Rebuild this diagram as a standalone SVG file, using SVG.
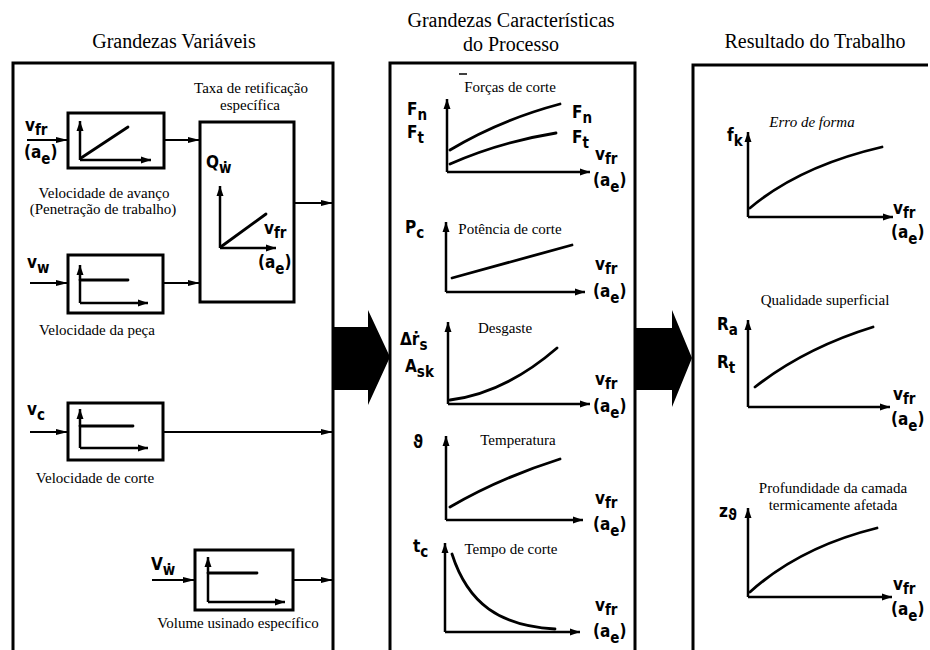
<svg xmlns="http://www.w3.org/2000/svg" width="930" height="650" viewBox="0 0 930 650">
<defs>
<style>
.h{font-family:"Liberation Serif","Times New Roman",Times,serif;font-size:20px;fill:#000;text-anchor:middle}
.t{font-family:"Liberation Serif","Times New Roman",Times,serif;font-size:15px;fill:#000;text-anchor:middle}
.ti{font-family:"Liberation Serif","Times New Roman",Times,serif;font-size:15px;font-style:italic;fill:#000;text-anchor:middle}
.m{font-family:"DejaVu Sans Condensed","DejaVu Sans",sans-serif;font-weight:bold;font-size:17px;fill:#000}
.s{font-size:15px}
.panel{fill:none;stroke:#000;stroke-width:3}
.box{fill:#fff;stroke:#000;stroke-width:3}
.ax{fill:none;stroke:#000;stroke-width:2.5;marker-end:url(#ah)}
.cv{fill:none;stroke:#000;stroke-width:2.8;stroke-linecap:round}
.cn{fill:none;stroke:#000;stroke-width:2;marker-end:url(#ch)}
.big{fill:#000}
</style>
<marker id="ah" markerWidth="10" markerHeight="8" refX="10" refY="4" orient="auto" markerUnits="userSpaceOnUse"><path d="M0,0.5 L10,4 L0,7.5 Z" fill="#000"/></marker>
<marker id="ch" markerWidth="12" markerHeight="8" refX="12" refY="4" orient="auto" markerUnits="userSpaceOnUse"><path d="M0,1 L12,4 L0,7 Z" fill="#000"/></marker>
</defs>
<rect width="930" height="650" fill="#fff"/>

<!-- titles -->
<text class="h" x="174" y="48">Grandezas Variáveis</text>
<text class="h" x="511" y="27">Grandezas Características</text>
<text class="h" x="511" y="51">do Processo</text>
<text class="h" x="815" y="48">Resultado do Trabalho</text>

<!-- panels -->
<g id="panel-variaveis"><path class="panel" d="M13,650 V63 H333 V650"/></g>
<g id="panel-processo"><path class="panel" d="M390,650 V63 H635 V650"/></g>
<g id="panel-resultado"><path class="panel" d="M693,650 V65 H928"/></g>

<!-- big block arrows -->
<g id="big-arrows">
<polygon class="big" points="333,327 368,327 368,310 390,357 368,405 368,390 333,390"/>
<polygon class="big" points="635,328 672,328 672,310 692,358 672,407 672,390 635,390"/>
</g>

<!-- left panel nodes -->
<g id="node-vfr">
<rect class="box" x="68" y="113" width="96" height="55"/>
<line class="ax" x1="80" y1="160" x2="80" y2="121"/>
<line class="ax" x1="80" y1="160" x2="151" y2="160"/>
<line class="cv" x1="81" y1="158" x2="128" y2="127"/>
<text class="m" x="25" y="131">v<tspan class="s" dy="4">fr</tspan></text>
<text class="m" x="24" y="158">(a<tspan class="s" dy="6">e</tspan><tspan dy="-6">)</tspan></text>
<text class="t" x="104" y="198">Velocidade de avanço</text>
<text class="t" x="103" y="214">(Penetração de trabalho)</text>
</g>

<g id="node-qw">
<text class="t" x="251" y="93">Taxa de retificação</text>
<text class="t" x="250" y="110">específica</text>
<rect class="box" x="200" y="122" width="94" height="180"/>
<line class="ax" x1="220" y1="248" x2="220" y2="186"/>
<line class="ax" x1="220" y1="248" x2="276" y2="248"/>
<line class="cv" x1="222" y1="246" x2="266" y2="214"/>
<text class="m" x="206" y="168">Q<tspan class="s" dy="5">ẇ</tspan></text>
<text class="m" x="264" y="234">v<tspan class="s" dy="4">fr</tspan></text>
<text class="m" x="258" y="268">(a<tspan class="s" dy="6">e</tspan><tspan dy="-6">)</tspan></text>
</g>

<g id="node-vw">
<rect class="box" x="68" y="255" width="95" height="58"/>
<line class="ax" x1="80" y1="303" x2="80" y2="265"/>
<line class="ax" x1="80" y1="303" x2="148" y2="303"/>
<line class="cv" x1="80" y1="280" x2="128" y2="280"/>
<text class="m" x="27" y="268">v<tspan class="s" dy="5">w</tspan></text>
<text class="t" x="97" y="335">Velocidade da peça</text>
</g>

<g id="node-vc">
<rect class="box" x="68" y="403" width="95" height="57"/>
<line class="ax" x1="80" y1="448" x2="80" y2="409"/>
<line class="ax" x1="80" y1="448" x2="148" y2="448"/>
<line class="cv" x1="80" y1="426" x2="133" y2="426"/>
<text class="m" x="27" y="415">v<tspan class="s" dy="5">c</tspan></text>
<text class="t" x="95" y="483">Velocidade de corte</text>
</g>

<g id="node-vw-spec">
<rect class="box" x="195" y="550" width="98" height="60"/>
<line class="ax" x1="208" y1="602" x2="208" y2="557"/>
<line class="ax" x1="208" y1="602" x2="285" y2="602"/>
<line class="cv" x1="208" y1="573" x2="257" y2="573"/>
<text class="m" x="151" y="570">V<tspan class="s" dy="5">ẇ</tspan></text>
<text class="t" x="238" y="628">Volume usinado específico</text>
</g>

<!-- connectors -->
<g id="connectors">
<line class="cn" x1="27" y1="140" x2="68" y2="140"/>
<line class="cn" x1="164" y1="140" x2="200" y2="140"/>
<line class="cn" x1="30" y1="283" x2="68" y2="283"/>
<line class="cn" x1="163" y1="283" x2="200" y2="283"/>
<line class="cn" x1="294" y1="203" x2="333" y2="203"/>
<line class="cn" x1="30" y1="432" x2="68" y2="432"/>
<line class="cn" x1="163" y1="432" x2="333" y2="432"/>
<line class="cn" x1="152" y1="580" x2="195" y2="580"/>
<line class="cn" x1="293" y1="580" x2="333" y2="580"/>
</g>

<!-- middle panel graphs -->
<g id="graph-forcas">
<text class="t" x="510" y="92">Forças de corte</text>
<line x1="459" y1="74" x2="467" y2="74" stroke="#000" stroke-width="1.5"/>
<text class="m" x="407" y="115">F<tspan class="s" dy="5">n</tspan></text>
<text class="m" x="407" y="138">F<tspan class="s" dy="5">t</tspan></text>
<line class="ax" x1="447" y1="172" x2="447" y2="99"/>
<line class="ax" x1="447" y1="172" x2="590" y2="172"/>
<path class="cv" d="M450,150 Q500,120 560,104"/>
<path class="cv" d="M450,164 Q500,142 556,133"/>
<text class="m" x="572" y="118">F<tspan class="s" dy="5">n</tspan></text>
<text class="m" x="572" y="143">F<tspan class="s" dy="5">t</tspan></text>
<text class="m" x="595" y="160">v<tspan class="s" dy="4">fr</tspan></text>
<text class="m" x="593" y="186">(a<tspan class="s" dy="6">e</tspan><tspan dy="-6">)</tspan></text>
</g>

<g id="graph-potencia">
<text class="m" x="405" y="233">P<tspan class="s" dy="5">c</tspan></text>
<text class="t" x="510" y="234">Potência de corte</text>
<line class="ax" x1="446" y1="292" x2="446" y2="222"/>
<line class="ax" x1="446" y1="292" x2="585" y2="292"/>
<path class="cv" d="M452,278 Q510,262 572,245"/>
<text class="m" x="595" y="270">v<tspan class="s" dy="4">fr</tspan></text>
<text class="m" x="593" y="297">(a<tspan class="s" dy="6">e</tspan><tspan dy="-6">)</tspan></text>
</g>

<g id="graph-desgaste">
<text class="m" x="400" y="345">Δṙ<tspan class="s" dy="5">s</tspan></text>
<text class="m" x="405" y="372">A<tspan class="s" dy="5">sk</tspan></text>
<text class="t" x="505" y="333">Desgaste</text>
<line class="ax" x1="448" y1="404" x2="448" y2="322"/>
<line class="ax" x1="448" y1="404" x2="590" y2="404"/>
<path class="cv" d="M450,400 Q505,393 557,348"/>
<text class="m" x="595" y="385">v<tspan class="s" dy="4">fr</tspan></text>
<text class="m" x="593" y="412">(a<tspan class="s" dy="6">e</tspan><tspan dy="-6">)</tspan></text>
</g>

<g id="graph-temperatura">
<text class="m" x="413" y="448">ϑ</text>
<text class="t" x="518" y="445">Temperatura</text>
<line class="ax" x1="446" y1="520" x2="446" y2="436"/>
<line class="ax" x1="446" y1="520" x2="583" y2="520"/>
<path class="cv" d="M450,507 Q500,478 560,459"/>
<text class="m" x="595" y="504">v<tspan class="s" dy="4">fr</tspan></text>
<text class="m" x="593" y="530">(a<tspan class="s" dy="6">e</tspan><tspan dy="-6">)</tspan></text>
</g>

<g id="graph-tempo">
<text class="m" x="413" y="552">t<tspan class="s" dy="5">c</tspan></text>
<text class="t" x="511" y="554">Tempo de corte</text>
<line class="ax" x1="445" y1="632" x2="445" y2="543"/>
<line class="ax" x1="445" y1="632" x2="580" y2="632"/>
<path class="cv" d="M452,554 C468,604 500,626 555,629"/>
<text class="m" x="595" y="611">v<tspan class="s" dy="4">fr</tspan></text>
<text class="m" x="593" y="637">(a<tspan class="s" dy="6">e</tspan><tspan dy="-6">)</tspan></text>
</g>

<!-- right panel graphs -->
<g id="graph-erro">
<text class="ti" x="812" y="127">Erro de forma</text>
<text class="m" x="727" y="141">f<tspan class="s" dy="5">k</tspan></text>
<line class="ax" x1="748" y1="217" x2="748" y2="132"/>
<line class="ax" x1="748" y1="217" x2="893" y2="217"/>
<path class="cv" d="M750,208 Q800,166 882,147"/>
<text class="m" x="893" y="214">v<tspan class="s" dy="4">fr</tspan></text>
<text class="m" x="891" y="238">(a<tspan class="s" dy="6">e</tspan><tspan dy="-6">)</tspan></text>
</g>

<g id="graph-qualidade">
<text class="t" x="825" y="305">Qualidade superficial</text>
<text class="m" x="717" y="330">R<tspan class="s" dy="5">a</tspan></text>
<text class="m" x="717" y="368">R<tspan class="s" dy="5">t</tspan></text>
<line class="ax" x1="748" y1="407" x2="748" y2="320"/>
<line class="ax" x1="748" y1="407" x2="890" y2="407"/>
<path class="cv" d="M755,387 Q805,348 873,327"/>
<text class="m" x="893" y="400">v<tspan class="s" dy="4">fr</tspan></text>
<text class="m" x="891" y="425">(a<tspan class="s" dy="6">e</tspan><tspan dy="-6">)</tspan></text>
</g>

<g id="graph-profundidade">
<text class="t" x="833" y="493">Profundidade da camada</text>
<text class="t" x="833" y="510">termicamente afetada</text>
<text class="m" x="719" y="517">z<tspan class="s" dy="3">ϑ</tspan></text>
<line class="ax" x1="748" y1="597" x2="748" y2="508"/>
<line class="ax" x1="748" y1="597" x2="892" y2="597"/>
<path class="cv" d="M750,592 Q800,547 877,528"/>
<text class="m" x="893" y="590">v<tspan class="s" dy="4">fr</tspan></text>
<text class="m" x="891" y="615">(a<tspan class="s" dy="6">e</tspan><tspan dy="-6">)</tspan></text>
</g>
</svg>
